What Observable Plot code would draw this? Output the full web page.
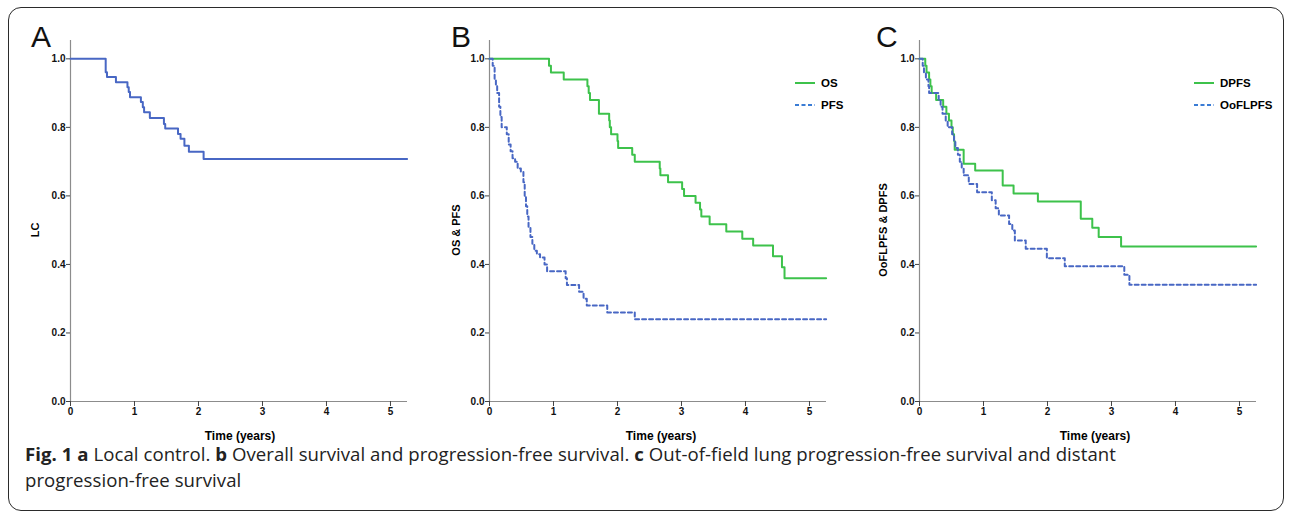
<!DOCTYPE html>
<html><head><meta charset="utf-8">
<script src="https://cdn.jsdelivr.net/npm/d3@7"></script>
<script src="https://cdn.jsdelivr.net/npm/@observablehq/plot@0.6"></script>
<style>
body{margin:0;background:#fff;width:1292px;height:518px;position:relative;overflow:hidden;font-family:"Liberation Sans",Arial,sans-serif}
#frame{position:absolute;left:8px;top:7px;width:1276px;height:504px;border:1.6px solid #2b2b2b;border-radius:13px;box-sizing:border-box}
.panel{position:absolute;top:0}
.letter{position:absolute;font-size:30px;line-height:30px;color:#111}
.ytitle{position:absolute;font-size:11px;font-weight:bold;white-space:nowrap;transform:translate(-50%,-50%) rotate(-90deg)}
.xtitle{position:absolute;font-size:12px;font-weight:bold;white-space:nowrap;transform:translate(-50%,-50%)}
.leg{position:absolute;font-size:11.5px;font-weight:bold;white-space:nowrap;display:flex;align-items:center;gap:6px}
.leg svg{display:block}
#caption{position:absolute;left:25px;top:441px;font-family:"Open Sans",sans-serif;font-size:18.6px;line-height:26px;color:#222;width:1255px;letter-spacing:0.05px}
</style></head>
<body>
<div id="frame"></div>
<div id="root"></div>
<div id="caption"><b>Fig. 1</b> <b>a</b> Local control. <b>b</b> Overall survival and progression-free survival. <b>c</b> Out-of-field lung progression-free survival and distant<br>progression-free survival</div>
<script>
// ---- data ----
const xTicks = [0, 1, 2, 3, 4, 5];
const yTicks = [0, 0.2, 0.4, 0.6, 0.8, 1.0];

const lcTime = [0, 0.55, 0.57, 0.71, 0.89, 0.91, 0.93, 1.10, 1.13, 1.15, 1.24, 1.46, 1.48, 1.68, 1.72, 1.78, 1.85, 2.08, 5.26];
const lcSurv = [1.0, 0.961, 0.947, 0.932, 0.917, 0.903, 0.888, 0.874, 0.859, 0.844, 0.827, 0.810, 0.797, 0.781, 0.767, 0.746, 0.729, 0.708, 0.708];

const osTime = [0, 0.93, 0.96, 1.16, 1.53, 1.55, 1.57, 1.71, 1.87, 1.88, 1.90, 2.00, 2.01, 2.23, 2.27, 2.66, 2.67, 2.79, 3.01, 3.04, 3.22, 3.29, 3.31, 3.44, 3.70, 3.95, 4.12, 4.43, 4.57, 4.61, 5.26];
const osSurv = [1.0, 0.98, 0.96, 0.94, 0.92, 0.90, 0.88, 0.84, 0.82, 0.80, 0.78, 0.76, 0.74, 0.72, 0.70, 0.68, 0.66, 0.64, 0.62, 0.60, 0.58, 0.56, 0.54, 0.517, 0.496, 0.475, 0.455, 0.424, 0.392, 0.360, 0.360];

const pfsTime = [0, 0.05, 0.08, 0.10, 0.12, 0.15, 0.17, 0.19, 0.27, 0.30, 0.33, 0.36, 0.40, 0.44, 0.49, 0.53, 0.55, 0.57, 0.59, 0.61, 0.64, 0.67, 0.70, 0.74, 0.79, 0.86, 0.90, 1.19, 1.21, 1.40, 1.47, 1.52, 1.84, 2.27, 5.26];
const pfsSurv = [1.0, 0.98, 0.94, 0.92, 0.90, 0.86, 0.83, 0.80, 0.78, 0.75, 0.73, 0.71, 0.70, 0.68, 0.67, 0.64, 0.60, 0.57, 0.54, 0.51, 0.48, 0.46, 0.44, 0.43, 0.42, 0.40, 0.38, 0.36, 0.34, 0.32, 0.30, 0.28, 0.26, 0.24, 0.24];

const dpfsTime = [0, 0.09, 0.11, 0.15, 0.17, 0.19, 0.26, 0.37, 0.42, 0.46, 0.50, 0.52, 0.54, 0.55, 0.69, 0.87, 1.30, 1.47, 1.85, 2.52, 2.70, 2.80, 3.15, 5.26];
const dpfsSurv = [1.0, 0.98, 0.96, 0.94, 0.92, 0.90, 0.88, 0.86, 0.84, 0.82, 0.80, 0.78, 0.76, 0.735, 0.694, 0.674, 0.630, 0.607, 0.584, 0.533, 0.507, 0.480, 0.452, 0.452];

const oofTime = [0, 0.05, 0.07, 0.10, 0.14, 0.15, 0.30, 0.33, 0.36, 0.41, 0.44, 0.51, 0.54, 0.56, 0.60, 0.63, 0.66, 0.69, 0.77, 0.90, 1.13, 1.19, 1.24, 1.40, 1.45, 1.49, 1.66, 1.99, 2.27, 3.20, 3.28, 5.26];
const oofSurv = [1.0, 0.98, 0.96, 0.94, 0.92, 0.90, 0.88, 0.86, 0.84, 0.82, 0.80, 0.78, 0.76, 0.74, 0.72, 0.70, 0.68, 0.66, 0.635, 0.611, 0.587, 0.564, 0.543, 0.518, 0.499, 0.47, 0.446, 0.418, 0.395, 0.37, 0.341, 0.341];

// ---- styles ----
const BLUE = "#4867c4", GREEN = "#3dc24b", LEGBLUE = "#3a7cd5";

const toRows = (t, s) => t.map((d, i) => ({t: d, s: s[i]}));

function panel(series) {
  return Plot.plot({
    width: 400, height: 446,
    marginLeft: 50, marginRight: 13, marginTop: 40, marginBottom: 45,
    style: {fontFamily: "'Liberation Sans', Arial, sans-serif", fontSize: "10px", fontWeight: "bold", background: "transparent", overflow: "visible"},
    x: {domain: [0, 5.266]},
    y: {domain: [0, 1.0535]},
    marks: [
      Plot.ruleX([0], {stroke: "#8c8c8c", strokeWidth: 1.2}),
      Plot.ruleY([0], {stroke: "#8c8c8c", strokeWidth: 1.2}),
      Plot.axisX({ticks: xTicks, tickSize: 5, tickPadding: 1, label: null, stroke: "#444", tickFormat: d3.format("d"), fill: "#111"}),
      Plot.axisY({ticks: yTicks, tickSize: 4, tickPadding: 1, label: null, stroke: "#444", tickFormat: d3.format(".1f"), fill: "#111"}),
      ...series.map(sr => Plot.line(toRows(sr.t, sr.s), {
        x: "t", y: "s", curve: "step-after", stroke: sr.color, strokeWidth: 2,
        strokeDasharray: sr.dash ? "4,3" : null
      }))
    ]
  });
}

const root = document.getElementById("root");
function place(el, left) { el.classList.add("panel"); el.style.left = left + "px"; root.appendChild(el); }

place(panel([{t: lcTime, s: lcSurv, color: BLUE}]), 20);
place(panel([{t: osTime, s: osSurv, color: GREEN}, {t: pfsTime, s: pfsSurv, color: BLUE, dash: true}]), 439);
place(panel([{t: dpfsTime, s: dpfsSurv, color: GREEN}, {t: oofTime, s: oofSurv, color: BLUE, dash: true}]), 869);

function div(cls, html, left, top) {
  const d = document.createElement("div");
  d.className = cls; d.innerHTML = html; d.style.left = left + "px"; d.style.top = top + "px";
  document.body.appendChild(d); return d;
}
// panel letters
div("letter", "A", 31, 22);
div("letter", "B", 451, 22);
div("letter", "C", 876, 22);
// axis titles
div("ytitle", "LC", 35, 230);
div("ytitle", "OS &amp; PFS", 456, 230);
div("ytitle", "OoFLPFS &amp; DPFS", 883, 230);
div("xtitle", "Time (years)", 240, 436);
div("xtitle", "Time (years)", 661, 436);
div("xtitle", "Time (years)", 1095, 436);
// legends
const solid = c => `<svg width="20" height="4"><line x1="0" y1="2" x2="20" y2="2" stroke="${c}" stroke-width="2"/></svg>`;
const dashed = c => `<svg width="20" height="4"><line x1="0" y1="2" x2="20" y2="2" stroke="${c}" stroke-width="2" stroke-dasharray="4,2.5"/></svg>`;
div("leg", solid(GREEN) + "<span>OS</span>", 795, 77);
div("leg", dashed(LEGBLUE) + "<span>PFS</span>", 795, 99);
div("leg", solid(GREEN) + "<span>DPFS</span>", 1194, 77);
div("leg", dashed(LEGBLUE) + "<span>OoFLPFS</span>", 1194, 99);
</script>
</body></html>
